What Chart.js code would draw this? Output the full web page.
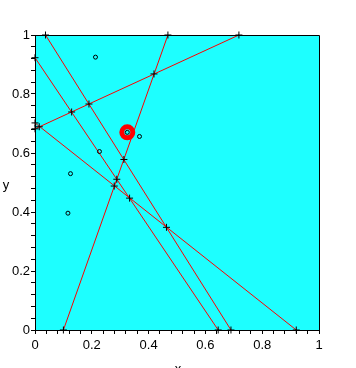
<!DOCTYPE html>
<html>
<head>
<meta charset="utf-8">
<style>
html,body{margin:0;padding:0;background:#fff;}
#wrap{width:356px;height:368px;position:relative;overflow:hidden;}
</style>
<script src="https://cdn.jsdelivr.net/npm/chart.js@4/dist/chart.umd.min.js"></script>
</head>
<body>
<div id="wrap"><canvas id="c" width="356" height="368"></canvas></div>
<script>
// Line segments (endpoints)
const lineStartX = [0.10, 0.00, 0.00, 0.00, 0.037];
const lineStartY = [0.00, 0.682, 0.702, 0.923, 1.00];
const lineEndX   = [0.468, 0.718, 0.92, 0.645, 0.69];
const lineEndY   = [1.00, 1.00, 0.00, 0.00, 0.00];

// Crossing markers
const crossX = [0.015, 0.129, 0.190, 0.419, 0.279, 0.288, 0.313, 0.333, 0.463];
const crossY = [0.689, 0.739, 0.766, 0.868, 0.488, 0.511, 0.578, 0.447, 0.348];

// Data points
const pointX = [0.213, 0.325, 0.368, 0.227, 0.125, 0.116];
const pointY = [0.925, 0.670, 0.656, 0.605, 0.530, 0.396];

// Highlighted point
const highlightX = [0.325];
const highlightY = [0.670];

const axisTicks = ['0', '0.2', '0.4', '0.6', '0.8', '1'];

const FONT = 'Liberation Sans, Arial, sans-serif';
const BG = '#1dffff';

const zip = (xs, ys) => xs.map((x, i) => ({x: x, y: ys[i]}));

const datasets = [];
datasets.push({
  label: 'crossings', data: zip(crossX, crossY), showLine: false,
  pointStyle: 'cross', pointRadius: 3.5, pointBorderColor: '#000', pointBorderWidth: 1,
  pointHoverRadius: 3.5, clip: false, order: 0
});
datasets.push({
  label: 'points', data: zip(pointX, pointY), showLine: false,
  pointStyle: 'circle', pointRadius: 2, pointBorderColor: '#000',
  pointBackgroundColor: 'rgba(0,0,0,0)', pointBorderWidth: 1, clip: false, order: 1
});
datasets.push({
  label: 'highlight', data: zip(highlightX, highlightY), showLine: false,
  pointStyle: 'circle', pointRadius: 5.5, pointBorderColor: '#ff0000',
  pointBackgroundColor: 'rgba(0,0,0,0)', pointBorderWidth: 5, clip: false, order: 2
});
for (let i = 0; i < lineStartX.length; i++) {
  datasets.push({
    label: 'line' + (i + 1),
    data: [{x: lineStartX[i], y: lineStartY[i]}, {x: lineEndX[i], y: lineEndY[i]}],
    showLine: true, borderColor: '#ff0000', borderWidth: 1, fill: false,
    pointStyle: 'cross', pointRadius: 3.5, pointBorderColor: '#000', pointBorderWidth: 1,
    clip: false, order: 3
  });
}

const tickLabel = (v) => {
  const r = Math.round(v * 100);
  return (r % 20 === 0) ? axisTicks[r / 20] : '';
};

const framePlugin = {
  id: 'frame',
  beforeDraw(chart) {
    const a = chart.chartArea, ctx = chart.ctx;
    ctx.save();
    ctx.fillStyle = BG;
    ctx.fillRect(a.left, a.top, a.right - a.left, a.bottom - a.top);
    ctx.restore();
  },
  afterDraw(chart) {
    const a = chart.chartArea, ctx = chart.ctx;
    ctx.save();
    ctx.strokeStyle = '#000';
    ctx.lineWidth = 1;
    ctx.beginPath();
    ctx.moveTo(a.left + 0.5, a.top + 0.5);
    ctx.lineTo(a.right + 0.5, a.top + 0.5);
    ctx.lineTo(a.right + 0.5, a.bottom + 0.5);
    ctx.stroke();
    ctx.fillStyle = '#000';
    ctx.font = '13px ' + FONT;
    ctx.textAlign = 'center';
    ctx.textBaseline = 'middle';
    ctx.fillText('y', 6, (a.top + a.bottom) / 2 + 3);
    ctx.textBaseline = 'alphabetic';
    ctx.fillText('x', (a.left + a.right) / 2 + 1, 373);
    ctx.restore();
  }
};

const axisCommon = {
  type: 'linear', min: 0, max: 1,
  border: {display: true, color: '#000', width: 1},
  grid: {display: true, drawOnChartArea: false, drawTicks: true, tickLength: 4, color: '#000', lineWidth: 1},
  title: {display: false}
};

new Chart(document.getElementById('c'), {
  type: 'scatter',
  data: {datasets: datasets},
  plugins: [framePlugin],
  options: {
    responsive: false,
    animation: false,
    events: [],
    layout: {padding: {top: 35, right: 37, bottom: 0, left: 0}},
    plugins: {legend: {display: false}, tooltip: {enabled: false}},
    scales: {
      x: Object.assign({}, axisCommon, {
        position: 'bottom',
        ticks: {stepSize: 0.04, autoSkip: false, maxRotation: 0, padding: 4,
          color: '#000', font: {family: FONT, size: 13}, callback: tickLabel},
        afterFit(s) { s.height = 38; }
      }),
      y: Object.assign({}, axisCommon, {
        position: 'left',
        ticks: {stepSize: 0.04, autoSkip: false, padding: 1,
          color: '#000', font: {family: FONT, size: 13}, callback: tickLabel},
        afterFit(s) { s.width = 35; }
      })
    }
  }
});
</script>
</body>
</html>
